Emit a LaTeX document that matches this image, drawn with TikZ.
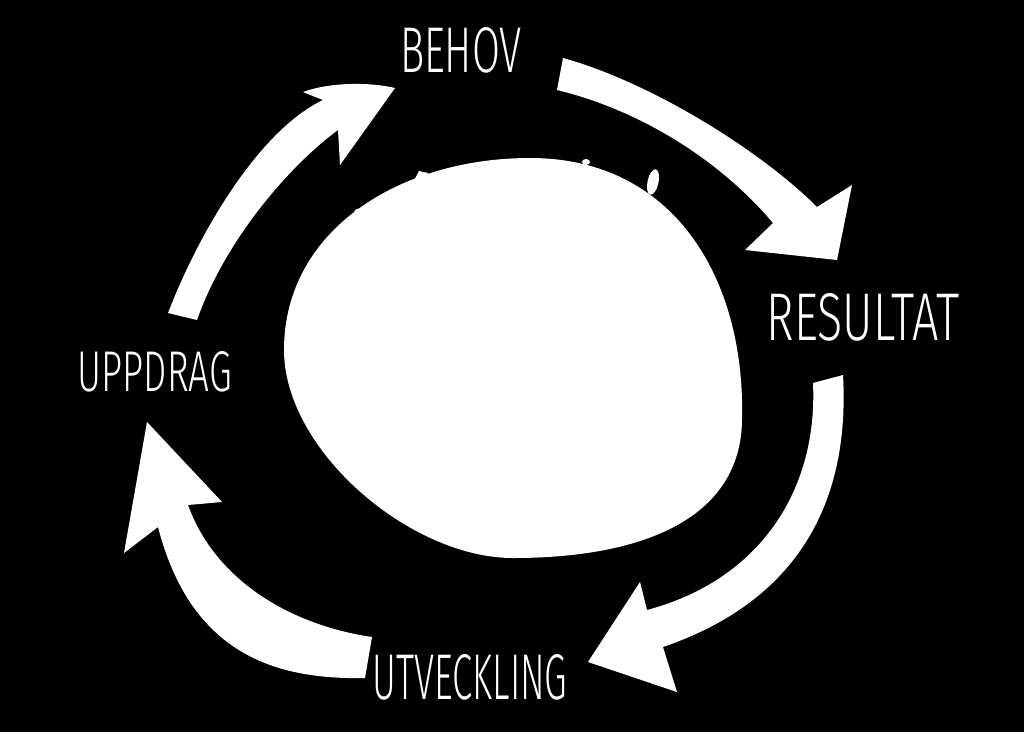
\documentclass[tikz,border=0pt]{standalone}
\usepackage{graphicx}
\usepackage{fontspec}
\setmainfont{Liberation Sans}
\newfontfamily\handfont{Fira Sans Light}
\begin{document}
\begin{tikzpicture}[x=1pt,y=-1pt,
  wfill/.style={fill=white, draw=none},
  lbl/.style={text=white, inner sep=0pt, anchor=center, font=\handfont}]
\fill[black] (0,0) rectangle (1024,732);
\useasboundingbox (0,0) rectangle (1024,732);

% central blob
\fill[wfill] (530,158) .. controls (675,158) and (745,280) .. (742,418)
  .. controls (742,520) and (640,558) .. (513,558)
  .. controls (410,558) and (284,450) .. (284,350)
  .. controls (284,230) and (400,158) .. (530,158) -- cycle;
% small spikes on the blob
\fill[wfill, rotate around={-12:(653,182)}] (653,182) ellipse (5.5 and 13);
\fill[wfill] (410,188) -- (419,171) -- (428,173) -- (426,188) -- cycle;
\fill[wfill] (360,212) ellipse (6 and 3.5);
\fill[wfill] (586,162) ellipse (4 and 3);

% arrow UPPDRAG -> BEHOV
\fill[wfill] (168,313) .. controls (200,230) and (260,130) .. (323,100)
  -- (303,92) .. controls (330,82) and (370,82) .. (395,88)
  -- (340,165) -- (338,130)
  .. controls (290,165) and (225,240) .. (197,320) -- cycle;
% arrow BEHOV -> RESULTAT
\fill[wfill] (563,58) .. controls (650,82) and (760,150) .. (817,207)
  -- (852,185) -- (837,260) -- (745,250) -- (773,223)
  .. controls (720,160) and (640,110) .. (557,90) -- cycle;
% arrow RESULTAT -> UTVECKLING
\fill[wfill] (843,375) .. controls (850,500) and (800,600) .. (663,647)
  -- (677,692) -- (588,662) -- (640,582) -- (647,610)
  .. controls (760,580) and (818,490) .. (813,383) -- cycle;
% arrow UTVECKLING -> UPPDRAG
\fill[wfill] (365,678) .. controls (270,680) and (190,650) .. (158,527)
  -- (124,553) -- (147,422) -- (222,502) -- (188,505)
  .. controls (215,580) and (290,625) .. (372,637) -- cycle;

% labels
\node[lbl] (behov) at (461,50) {\resizebox{122pt}{45pt}{BEHOV}};
\node[lbl] (resultat) at (863,317) {\resizebox{193pt}{47pt}{RESULTAT}};
\node[lbl] (uppdrag) at (155,372) {\resizebox{154pt}{40pt}{UPPDRAG}};
\node[lbl] (utveckling) at (470,677) {\resizebox{195pt}{45pt}{UTVECKLING}};
\end{tikzpicture}
\end{document}
